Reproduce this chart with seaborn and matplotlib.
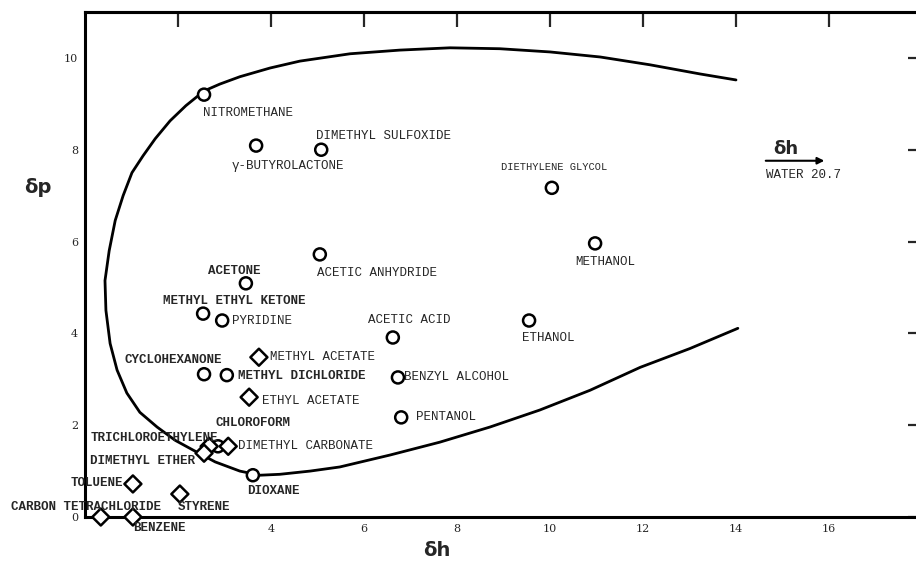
import numpy as np
import pandas as pd
import matplotlib.pyplot as plt
import seaborn as sns

# Çözücüler: delta-h, delta-p değerleri ve işaret türü
names = ['NITROMETHANE', 'γ-BUTYROLACTONE', 'DIMETHYL SULFOXIDE', 'DIETHYLENE GLYCOL',
         'METHANOL', 'ETHANOL', 'ACETIC ANHYDRIDE', 'ACETONE', 'METHYL ETHYL KETONE',
         'PYRIDINE', 'ACETIC ACID', 'CYCLOHEXANONE', 'METHYL DICHLORIDE', 'BENZYL ALCOHOL',
         'PENTANOL', 'DIOXANE', 'CHLOROFORM', 'METHYL ACETATE', 'ETHYL ACETATE',
         'TRICHLOROETHYLENE', 'DIMETHYL CARBONATE', 'DIMETHYL ETHER', 'TOLUENE',
         'STYRENE', 'CARBON TETRACHLORIDE', 'BENZENE']
dh = [2.56, 3.68, 5.08, 10.04, 10.97, 9.55, 5.05, 3.46, 2.54, 2.95, 6.62, 2.56, 3.05, 6.73,
      6.80, 3.61, 2.86, 3.74, 3.53, 2.67, 3.08, 2.56, 1.03, 2.04, 0.34, 1.03]
dp = [9.20, 8.09, 8.00, 7.17, 5.96, 4.28, 5.72, 5.09, 4.43, 4.28, 3.91, 3.11, 3.09, 3.04,
      2.17, 0.91, 1.54, 3.48, 2.61, 1.54, 1.54, 1.39, 0.72, 0.50, 0.00, 0.00]
kind = ['circle'] * 17 + ['diamond'] * 9

# Çözünürlük sınırı eğrisi (resimden okunan noktalar)
curve_h = [14.00, 13.23, 12.15, 11.08, 10.00, 8.92, 7.85, 6.77, 5.70, 4.62, 3.98, 3.33,
           2.90, 2.56, 2.17, 1.83, 1.51, 1.25, 1.01, 0.82, 0.65, 0.52, 0.43, 0.45, 0.54,
           0.69, 0.90, 1.18, 1.55, 1.94, 2.32, 2.80, 3.33, 3.76, 4.19, 4.84, 5.48, 6.56,
           7.63, 8.71, 9.78, 10.86, 11.94, 13.01, 14.04]
curve_p = [9.52, 9.65, 9.85, 10.02, 10.13, 10.20, 10.22, 10.17, 10.09, 9.93, 9.78, 9.59,
           9.43, 9.28, 8.96, 8.63, 8.24, 7.87, 7.50, 7.00, 6.46, 5.80, 5.15, 4.50, 3.78,
           3.20, 2.70, 2.28, 1.96, 1.67, 1.46, 1.20, 1.00, 0.91, 0.93, 1.00, 1.09, 1.35,
           1.63, 1.96, 2.33, 2.76, 3.26, 3.67, 4.11]

# Etiket kaydırmaları (piksel, işaretin merkezine göre)
label_dx = [-1, -24, -5, -51, -20, -7, -3, -38, -40, 10, -25, -80, 11, 6, 15, -6, -2, 11, 13,
            -119, 10, -114, -62, -2, -90, 0]
label_dy = [-18, -20, 14, 21, -19, -17, -19, 12, 13, 0, 17, 14, -1, 0, 0, -16, 23, 0, -4,
            8, 0, -8, 1, -13, 10, -11]
bold_labels = {'ACETONE', 'METHYL ETHYL KETONE', 'CYCLOHEXANONE', 'METHYL DICHLORIDE',
               'CHLOROFORM', 'TRICHLOROETHYLENE', 'DIMETHYL ETHER', 'TOLUENE',
               'CARBON TETRACHLORIDE', 'STYRENE', 'BENZENE', 'DIOXANE'}

df = pd.DataFrame({'name': names, 'dh': dh, 'dp': dp, 'kind': kind})

sns.set_style('white')
fig = plt.figure(figsize=(9.16, 5.66), dpi=100)
ax = fig.add_axes([85 / 916, 49 / 566, 837 / 916, 505 / 566])

ax.plot(curve_h, curve_p, color='black', lw=2, solid_joinstyle='round')
sns.scatterplot(data=df, x='dh', y='dp', style='kind',
                markers={'circle': 'o', 'diamond': 'D'},
                color='white', edgecolor='black', linewidth=1.8, s=75,
                legend=False, clip_on=False, zorder=3, ax=ax)

for n, x, y, ox, oy in zip(names, dh, dp, label_dx, label_dy):
    ax.annotate(n, (x, y), xytext=(ox * 0.72, oy * 0.72), textcoords='offset points',
                ha='left', va='center', family='Liberation Mono',
                fontsize=7.5 if n == 'DIETHYLENE GLYCOL' else 9,
                fontweight='bold' if n in bold_labels else 'normal')

# su için ok
ax.annotate('', xy=(15.96, 7.76), xytext=(14.58, 7.76),
            arrowprops=dict(arrowstyle='-|>', color='black', lw=1.5, mutation_scale=10))
ax.text(15.08, 8.02, 'δh', ha='center', va='center', fontsize=13, fontweight='bold')
ax.text(14.65, 7.46, 'WATER 20.7', ha='left', va='center', family='Liberation Mono',
        fontsize=9)

ax.set_xlim(0, 18)
ax.set_ylim(0, 11)
ax.set_xticks([4, 6, 8, 10, 12, 14, 16])
ax.set_yticks([0, 2, 4, 6, 8, 10])
ax.tick_params(direction='in', length=10, width=1.6, right=True, labelsize=8, pad=5)
for lab in ax.get_xticklabels() + ax.get_yticklabels():
    lab.set_family('DejaVu Serif')
top = ax.secondary_xaxis('top')
top.set_xticks([2, 4, 6, 8, 10, 12, 14, 16])
top.set_xticklabels([])
top.tick_params(direction='in', length=11, width=1.6)
top.spines['top'].set_linewidth(2.2)
for s in ax.spines.values():
    s.set_linewidth(2.2)
    s.set_color('black')

ax.set_xlabel('')
ax.set_ylabel('')
fig.text(437 / 916, 1 - 551 / 566, 'δh', ha='center', va='center', fontsize=14,
         fontweight='bold')
fig.text(38 / 916, 1 - 188 / 566, 'δp', ha='center', va='center', fontsize=14,
         fontweight='bold')

plt.savefig('out.png', dpi=100)
